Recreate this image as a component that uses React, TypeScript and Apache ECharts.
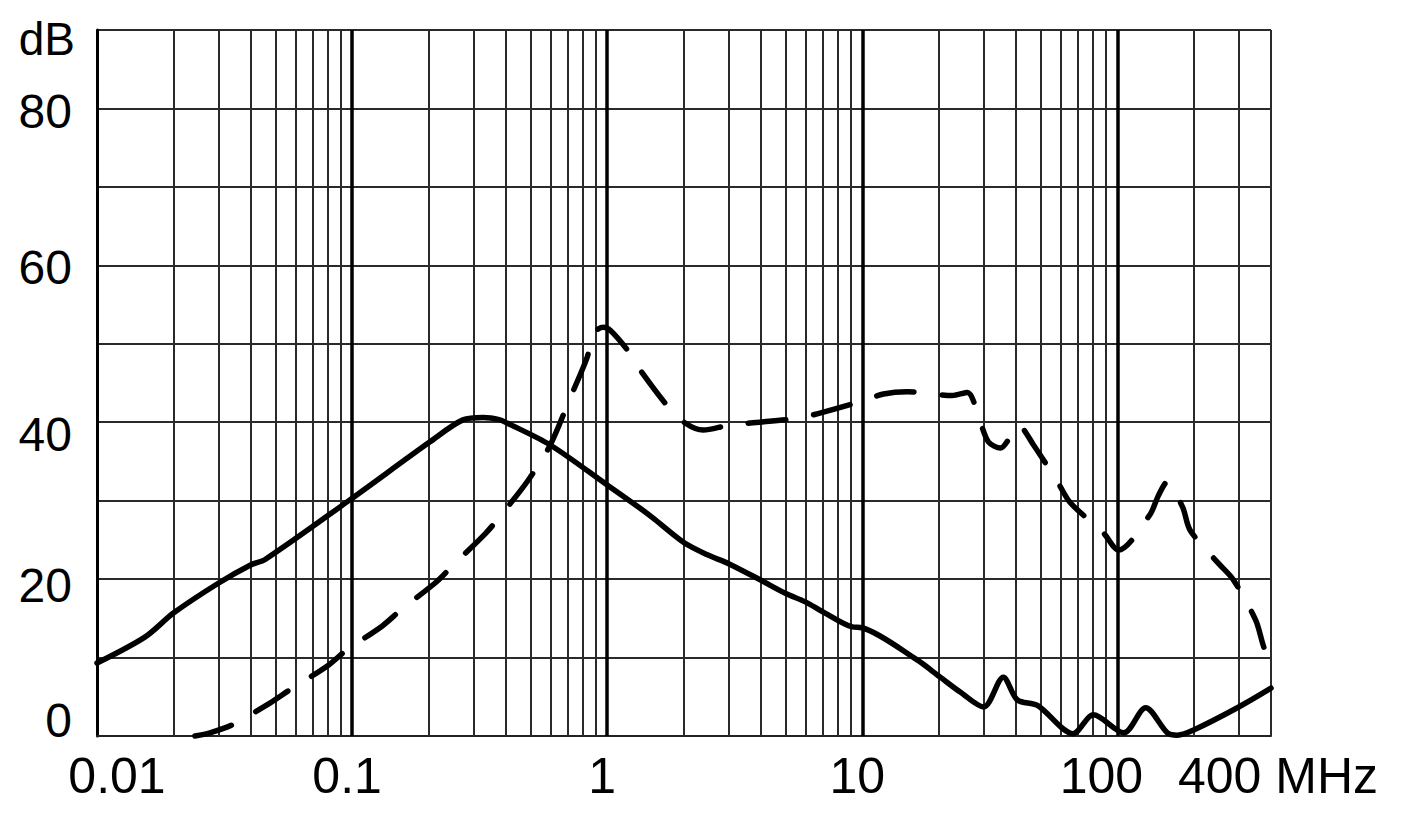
import React, { useEffect, useRef } from "react";
import * as echarts from "echarts";

// Solid curve: [frequency MHz, dB]
const solidCurve: [number, number][] = [
  [0.01, 9.3], [0.0154, 12.6], [0.02, 15.7], [0.03, 19.5], [0.04, 21.8], [0.0456, 22.5],
  [0.098, 30.1], [0.202, 37.5], [0.272, 40.3], [0.327, 40.6], [0.38, 40.3], [0.405, 39.9],
  [0.598, 37.1], [1, 32.0], [1.35, 29.0], [1.51, 27.8], [1.99, 24.7], [2.47, 23.1],
  [2.98, 22.0], [3.98, 19.9], [4.99, 18.2], [5.98, 17.1], [7.03, 15.8], [9.12, 13.9],
  [10, 13.8], [16.4, 9.7], [20.2, 7.5], [24.2, 5.6], [29.9, 3.7], [35.7, 7.5],
  [40.5, 4.6], [48.6, 3.9], [67, 0.3], [80.5, 2.7], [106, 0.4], [129, 3.6],
  [157, 0.4], [172, 0.1], [200, 0.8], [299, 3.7], [400, 6.1],
];

// Dashed curve: [frequency MHz, dB]
const dashedCurve: [number, number][] = [
  [0.0242, 0], [0.0277, 0.4], [0.0338, 1.4], [0.0476, 4.2], [0.0571, 5.9], [0.0805, 9.0],
  [0.0955, 11.0], [0.131, 14.0], [0.157, 16.2], [0.215, 19.7], [0.249, 21.8], [0.333, 25.8],
  [0.38, 28.0], [0.49, 32.6], [0.598, 37.1], [0.716, 43.1], [0.835, 48.3], [0.88, 51.3],
  [0.965, 52.1], [1.03, 51.7], [1.2, 49.2], [1.35, 46.6], [1.73, 42.0], [2.02, 39.9],
  [2.38, 39.0], [2.98, 39.6], [3.64, 39.9], [5.56, 40.5], [6.71, 41.1], [10, 42.7],
  [12.1, 43.6], [15, 43.9], [18.5, 43.6], [22.5, 43.4], [25.8, 43.8], [29, 40.0],
  [31.2, 37.5], [34.8, 36.7], [38, 38.1], [40.9, 39.6], [46.9, 37.1], [58.7, 32.2],
  [65.5, 29.7], [88.1, 25.9], [101, 23.7], [134, 28.2], [145, 30.7], [157, 32.4],
  [180, 29.2], [193, 26.2], [249, 22.0], [285, 19.9], [348, 14.8], [371, 11.8], [400, 8.4],
];

const xMin = 0.01;
const xMax = 400;
const decades = [0.01, 0.1, 1, 10, 100];
const minorMultipliers = [2, 3, 4, 5, 6, 7, 8, 9];
const majorLines = [0.1, 1, 10, 100];

const xLabelValues = [0.01, 0.1, 1, 10, 100, 400];
const xLabelTexts = ["0.01", "0.1", "1", "10", "100", "400 MHz"];
const xLabelStyles = ["a", "b", "b", "b", "c", "d"];

const yMin = 0;
const yMax = 90;
const yStep = 10;
const yLabelValues = [0, 20, 40, 60, 80, 90];
const yLabelTexts = ["0", "20", "40", "60", "80", "dB"];
const yLabelStyles = ["y0", "y20", "y40", "y60", "y80", "ydb"];

const FONT = "'Liberation Sans', Arial, Helvetica, sans-serif";

function findIndex(values: number[], v: number): number {
  for (let i = 0; i < values.length; i++) {
    if (Math.abs(values[i] - v) <= Math.abs(values[i]) * 1e-6 + 1e-9) return i;
  }
  return -1;
}

export default function App() {
  const ref = useRef<HTMLDivElement>(null);

  useEffect(() => {
    if (!ref.current) return;
    const chart = echarts.init(ref.current, null, { renderer: "svg" });

    const minorValues: number[] = [];
    decades.forEach((d) =>
      minorMultipliers.forEach((m) => {
        const v = parseFloat((d * m).toPrecision(4));
        if (v < xMax) minorValues.push(v);
      })
    );
    minorValues.push(xMax);

    const lineBase = {
      type: "line" as const,
      showSymbol: false,
      symbol: "none",
      silent: true,
      clip: false,
      smooth: 0.3,
    };

    const option: any = {
      animation: false,
      backgroundColor: "#ffffff",
      grid: {
        left: 97,
        right: 154,
        top: 30,
        bottom: 77,
        containLabel: false,
        outerBoundsMode: "none",
      },
      xAxis: {
        type: "log",
        logBase: 10,
        min: xMin,
        max: xMax,
        axisLine: { show: true, onZero: false, lineStyle: { color: "#222", width: 2 } },
        axisTick: { show: false },
        splitLine: { show: false },
        minorTick: { show: false },
        minorSplitLine: { show: false },
        axisLabel: {
          show: true,
          margin: 15,
          showMinLabel: true,
          showMaxLabel: true,
          color: "#000",
          fontSize: 50,
          fontFamily: FONT,
          formatter: (v: number) => {
            const i = findIndex(xLabelValues, v);
            if (i < 0) return "";
            return "{" + xLabelStyles[i] + "|" + xLabelTexts[i] + "}";
          },
          rich: {
            a: { fontSize: 50, fontFamily: FONT, color: "#000", padding: [0, 0, 0, 40] },
            b: { fontSize: 50, fontFamily: FONT, color: "#000", padding: [0, 10, 0, 0] },
            c: { fontSize: 50, fontFamily: FONT, color: "#000", padding: [0, 32, 0, 0] },
            d: { fontSize: 50, fontFamily: FONT, color: "#000", padding: [0, 0, 0, 14] },
          },
        },
      },
      yAxis: {
        type: "value",
        min: yMin,
        max: yMax,
        interval: yStep,
        axisLine: { show: true, lineStyle: { color: "#000", width: 3 } },
        axisTick: { show: false },
        splitLine: { show: true, lineStyle: { color: "#2a2a2a", width: 2 } },
        axisLabel: {
          show: true,
          margin: 22,
          color: "#000",
          fontSize: 48,
          fontFamily: FONT,
          formatter: (v: number) => {
            const i = findIndex(yLabelValues, v);
            if (i < 0) return "";
            return "{" + yLabelStyles[i] + "|" + yLabelTexts[i] + "}";
          },
          rich: {
            y0: { fontSize: 48, fontFamily: FONT, color: "#000", padding: [0, 3, 32, 0] },
            y20: { fontSize: 48, fontFamily: FONT, color: "#000", padding: [12, 3, 0, 0] },
            y40: { fontSize: 48, fontFamily: FONT, color: "#000", padding: [24, 3, 0, 0] },
            y60: { fontSize: 48, fontFamily: FONT, color: "#000", padding: [5, 3, 0, 0] },
            y80: { fontSize: 48, fontFamily: FONT, color: "#000", padding: [7, 3, 0, 0] },
            ydb: { fontSize: 46, fontFamily: FONT, color: "#000", padding: [18, 0, 0, 0] },
          },
        },
      },
      series: [
        {
          type: "line",
          name: "minorGrid",
          data: [],
          silent: true,
          z: 1,
          markLine: {
            z: 1,
            silent: true,
            symbol: ["none", "none"],
            label: { show: false },
            emphasis: { disabled: true },
            lineStyle: { color: "#2a2a2a", width: 2, type: "solid" },
            data: minorValues.map((v) => ({ xAxis: v })),
          },
        },
        {
          type: "line",
          name: "majorGrid",
          data: [],
          silent: true,
          z: 1,
          markLine: {
            z: 1,
            silent: true,
            symbol: ["none", "none"],
            label: { show: false },
            emphasis: { disabled: true },
            lineStyle: { color: "#000", width: 3.5, type: "solid" },
            data: majorLines.map((v) => ({ xAxis: v })),
          },
        },
        {
          ...lineBase,
          name: "solid",
          z: 5,
          data: solidCurve,
          lineStyle: { color: "#000", width: 5.5, type: "solid", cap: "round", join: "round" },
        },
        {
          ...lineBase,
          name: "dashed",
          z: 5,
          data: dashedCurve,
          lineStyle: { color: "#000", width: 5.5, type: [38, 28], cap: "round", join: "round" },
        },
      ],
    };

    chart.setOption(option);
    return () => chart.dispose();
  }, []);

  return (
    <div
      ref={ref}
      style={{ position: "absolute", left: 0, top: 0, width: 1425, height: 813, background: "#fff" }}
    />
  );
}
